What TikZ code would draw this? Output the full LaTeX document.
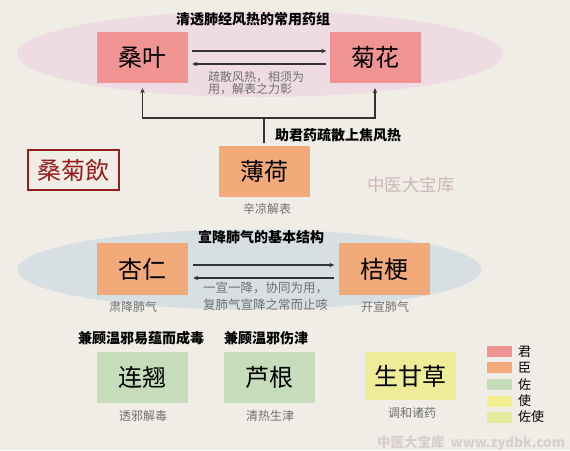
\documentclass[tikz,border=0pt]{standalone}
\usepackage{fontspec}
\setmainfont{Noto Sans CJK SC}
\usetikzlibrary{arrows.meta}
\definecolor{bg}{HTML}{F0EDE7}
\definecolor{pinkell}{HTML}{EEDCE2}
\definecolor{blueell}{HTML}{D7DFE3}
\definecolor{jun}{HTML}{EF9393}
\definecolor{chen}{HTML}{F3AA7A}
\definecolor{zuo}{HTML}{C6DCBA}
\definecolor{shi}{HTML}{F3EF8E}
\definecolor{zuoshi}{HTML}{E2EA9E}
\definecolor{gancao}{HTML}{EFEC98}
\definecolor{graytxt}{HTML}{707070}
\definecolor{darkred}{HTML}{991C1C}
\definecolor{wmark}{HTML}{CDB7B7}
\definecolor{wmark2}{HTML}{D6CFCB}
\definecolor{linec}{HTML}{333333}
\tikzset{
  herb/.style={minimum width=91pt, minimum height=51pt, inner sep=0pt, font=\fontsize{24}{24}\selectfont, text=black},
  ttl/.style={inner sep=0pt, font=\fontsize{14}{14}\selectfont\bfseries, text=black},
  note/.style={inner sep=0pt, font=\fontsize{12}{12}\selectfont, text=graytxt},
  conn/.style={draw=linec, line width=1.1pt},
  arr/.style={conn, -{Stealth[length=5pt,width=4.5pt]}},
  swatch/.style={minimum width=25pt, minimum height=11pt, inner sep=0pt},
  legtxt/.style={inner sep=0pt, anchor=west, font=\fontsize{13}{13}\selectfont, text=black}
}
\begin{document}
\begin{tikzpicture}[x=1pt,y=-1pt]
\fill[bg] (0,0) rectangle (570,450);
\useasboundingbox (0,0) rectangle (570,450);
% ellipses
\fill[pinkell] (260,54) ellipse [x radius=243, y radius=43];
\fill[blueell] (249.5,269.5) ellipse [x radius=232, y radius=40];
% top group
\node[ttl] (t1) at (253,19) {清透肺经风热的常用药组};
\node[herb, fill=jun] (sangye) at (142.5,57.5) {桑叶};
\node[herb, fill=jun] (juhua) at (375,57.5) {菊花};
\draw[arr, shorten <=4pt, shorten >=3pt] ([yshift=6.5pt]sangye.east) -- ([yshift=6.5pt]juhua.west);
\draw[arr, shorten <=3pt, shorten >=4pt] ([yshift=-6.5pt]juhua.west) -- ([yshift=-6.5pt]sangye.east);
\node[note, align=left, font=\fontsize{12}{12.5}\selectfont] (n1) at (256,83) {疏散风热，相须为\\用，解表之力彰};
% bohe
\node[herb, fill=chen] (bohe) at (264,171.5) {薄荷};
\coordinate (j) at (264,118);
\draw[conn] ([yshift=3pt]bohe.north) -- (j);
\draw[arr, shorten >=5pt] (j) -| (sangye.south);
\draw[arr, shorten >=5pt] (j) -| (juhua.south);
\node[ttl, anchor=west] (t2) at (275,135) {助君药疏散上焦风热};
\node[note] (n2) at (267,209) {辛凉解表};
% title box
\node[draw=darkred, line width=2.5pt, minimum width=91pt, minimum height=40pt, inner sep=0pt, text=darkred, font=\fontsize{24}{24}\selectfont] (title) at (73.5,170) {桑菊飲};
\node[inner sep=0pt, text=wmark, font=\fontsize{17.5}{17.5}\selectfont] (wm1) at (411,185) {中医大宝库};
% middle group
\node[ttl] (t3) at (261,237) {宣降肺气的基本结构};
\node[herb, fill=chen, minimum height=52pt] (xingren) at (142.5,269) {杏仁};
\node[herb, fill=chen, minimum height=52pt] (jiegeng) at (384,269) {桔梗};
\draw[arr, shorten <=5pt, shorten >=4pt] ([yshift=4pt]xingren.east) -- ([yshift=4pt]jiegeng.west);
\draw[arr, shorten <=4pt, shorten >=5pt] ([yshift=-9pt]jiegeng.west) -- ([yshift=-9pt]xingren.east);
\node[note, align=left, font=\fontsize{12.5}{16.5}\selectfont] (n3) at (265.5,296) {一宣一降，协同为用，\\复肺气宣降之常而止咳};
\node[note] (n4) at (133,307) {肃降肺气};
\node[note] (n5) at (385,307) {开宣肺气};
% bottom group
\node[ttl] (t4) at (141,338) {兼顾温邪易蕴而成毒};
\node[ttl] (t5) at (266,338) {兼顾温邪伤津};
\node[herb, fill=zuo] (lianqiao) at (142.5,377.5) {连翘};
\node[herb, fill=zuo] (lugen) at (269.5,377.5) {芦根};
\node[herb, fill=gancao, minimum height=48pt] (gancaobox) at (410,376) {生甘草};
\node[note] (n6) at (143,416) {透邪解毒};
\node[note] (n7) at (270,416) {清热生津};
\node[note] (n8) at (412,413) {调和诸药};
% legend
\node[swatch, fill=jun] (s1) at (499.5,351.5) {};
\node[swatch, fill=chen] (s2) at (499.5,367.5) {};
\node[swatch, fill=zuo] (s3) at (499.5,384.5) {};
\node[swatch, fill=shi] (s4) at (499.5,401) {};
\node[swatch, fill=zuoshi] (s5) at (499.5,417) {};
\node[legtxt] (l1) at (518,351.5) {君};
\node[legtxt] (l2) at (518,367.5) {臣};
\node[legtxt] (l3) at (518,384.5) {佐};
\node[legtxt] (l4) at (518,401) {使};
\node[legtxt] (l5) at (518,417) {佐使};
% watermark
\node[inner sep=0pt, anchor=west, text=wmark2, font=\fontsize{13.5}{13.5}\selectfont\bfseries] (wm2) at (377,443) {中医大宝库\hspace{6pt}www.zydbk.com};
\end{tikzpicture}
\end{document}
